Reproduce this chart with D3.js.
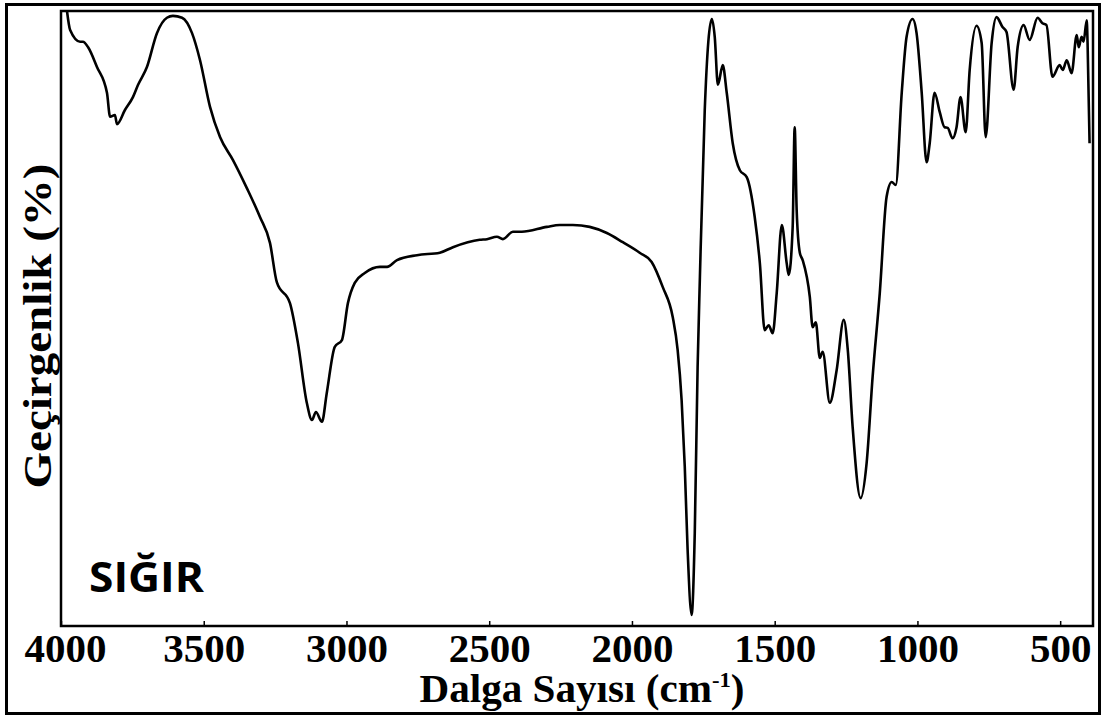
<!DOCTYPE html>
<html>
<head>
<meta charset="utf-8">
<script src="https://cdn.jsdelivr.net/npm/d3@7"></script>
<style>
  body { margin: 0; background: #fff; }
  svg { display: block; }
</style>
</head>
<body>
<script>
var width = 1103,
    height = 717;

// plot box (window.top is taken, so these get their own names)
var plotLeft = 61, plotRight = 1093, plotTop = 11, plotBottom = 626;

// wavenumber (cm-1) and transmittance (%)
var wavenumber = [3979, 3968, 3933, 3923, 3905, 3874, 3839, 3828, 3811, 3804,
  3776, 3748, 3730, 3699, 3664, 3629, 3608, 3576, 3541, 3513,
  3478, 3443, 3398, 3349, 3303, 3268, 3244, 3198, 3170, 3139,
  3121, 3107, 3086, 3069, 3041, 3016, 2995, 2971, 2936, 2883,
  2858, 2823, 2753, 2673, 2627, 2533, 2508, 2473, 2452, 2417,
  2386, 2298, 2253, 2207, 2148, 2088, 2032, 1973, 1931, 1892,
  1857, 1840, 1826, 1815, 1805, 1791, 1780, 1770, 1762, 1745,
  1720, 1710, 1699, 1682, 1668, 1647, 1622, 1598, 1570, 1552,
  1535, 1521, 1507, 1493, 1475, 1458, 1451, 1437, 1430, 1423,
  1412, 1402, 1377, 1367, 1356, 1342, 1332, 1307, 1283, 1258,
  1244, 1227, 1199, 1178, 1157, 1132, 1108, 1090, 1076, 1055,
  1038, 1017, 1003, 985, 968, 957, 940, 922, 905, 894,
  877, 863, 849, 831, 817, 793, 775, 761, 740, 723,
  702, 688, 663, 649, 628, 607, 579, 562, 548, 527,
  502, 491, 477, 460, 442, 435, 425, 418, 407, 404, 397];

var transmittance = [100.0, 96.9, 95.0, 95.0, 94.1, 90.9, 86.7, 82.8, 83.1, 81.6,
  83.9, 86.0, 88.0, 90.9, 96.4, 98.9, 99.2, 98.9, 96.4, 92.0,
  84.4, 79.5, 75.8, 71.2, 66.5, 62.3, 55.9, 52.5, 46.0, 36.3,
  33.5, 34.8, 33.2, 37.9, 45.4, 46.5, 52.5, 55.8, 57.4, 58.4,
  58.4, 59.5, 60.3, 60.7, 61.6, 62.8, 62.9, 63.3, 62.9, 64.1,
  64.1, 64.9, 65.2, 65.2, 64.9, 63.9, 62.4, 60.7, 59.2, 55.1,
  50.2, 44.9, 36.7, 25.9, 12.4, 1.8, 15.1, 42.1, 56.7, 83.9,
  98.7, 95.8, 88.0, 91.2, 86.7, 78.5, 74.1, 73.0, 66.5, 59.0,
  48.1, 48.9, 47.6, 54.1, 65.2, 59.0, 57.1, 64.9, 81.1, 67.6,
  60.7, 59.5, 53.5, 48.6, 49.4, 43.6, 44.6, 36.3, 41.6, 49.8,
  44.9, 32.4, 20.8, 26.5, 40.5, 54.1, 69.8, 72.2, 71.7, 86.7,
  95.8, 98.7, 96.4, 86.7, 75.4, 78.5, 86.7, 83.6, 81.1, 81.0,
  79.3, 81.1, 86.0, 80.3, 90.4, 97.6, 94.8, 79.5, 94.8, 99.0,
  97.4, 96.6, 87.2, 94.1, 97.7, 95.3, 98.9, 98.0, 97.7, 89.3,
  91.2, 90.4, 92.0, 89.9, 96.1, 94.1, 95.8, 95.0, 98.5, 94.8, 78.5];

var xTicks = [4000, 3500, 3000, 2500, 2000, 1500, 1000, 500];

var sampleLabel = "SIĞIR";

var svg = d3.select("body").append("svg")
    .attr("width", width)
    .attr("height", height);

var x = d3.scaleLinear()
    .domain([4000, 385])
    .range([plotLeft, plotRight]);

var y = d3.scaleLinear()
    .domain([0, 100])
    .range([plotBottom, plotTop]);

var points = wavenumber.map(function(w, i) { return [w, transmittance[i]]; });

var line = d3.line()
    .x(function(d) { return x(d[0]); })
    .y(function(d) { return y(d[1]); })
    .curve(d3.curveMonotoneX);

// outer frame of the whole figure
svg.append("rect")
    .attr("x", 6.5).attr("y", 4.5)
    .attr("width", 1093).attr("height", 709)
    .attr("fill", "none")
    .attr("stroke", "#000")
    .attr("stroke-width", 3);

// clip so the spectrum stays inside the box
svg.append("clipPath").attr("id", "plotClip")
  .append("rect")
    .attr("x", plotLeft).attr("y", plotTop)
    .attr("width", plotRight - plotLeft).attr("height", plotBottom - plotTop);

svg.append("path")
    .datum(points)
    .attr("clip-path", "url(#plotClip)")
    .attr("fill", "none")
    .attr("stroke", "#000")
    .attr("stroke-width", 2.6)
    .attr("stroke-linejoin", "round")
    .attr("d", line);

// x axis, ticks pointing up into the plot
var xAxis = svg.append("g")
    .attr("transform", "translate(0," + plotBottom + ")")
    .call(d3.axisBottom(x).tickValues(xTicks).tickSize(-5).tickSizeOuter(0).tickPadding(7).tickFormat(d3.format("d")));

xAxis.select(".domain").remove();
xAxis.selectAll(".tick line").attr("stroke", "#000").attr("stroke-width", 1.5);
xAxis.selectAll(".tick text")
    .attr("fill", "#000")
    .attr("dx", function(d) { return d === 4000 ? 4 : 0; })
    .style("font-family", "'Liberation Serif', 'Times New Roman', serif")
    .style("font-weight", "bold")
    .style("font-size", "41px");

// plot box
svg.append("rect")
    .attr("x", plotLeft).attr("y", plotTop)
    .attr("width", plotRight - plotLeft).attr("height", plotBottom - plotTop)
    .attr("fill", "none")
    .attr("stroke", "#000")
    .attr("stroke-width", 2.5);

// axis titles
var xTitle = svg.append("text")
    .attr("x", 582)
    .attr("y", 702)
    .attr("text-anchor", "middle")
    .attr("textLength", 325)
    .attr("lengthAdjust", "spacingAndGlyphs")
    .style("font-family", "'Liberation Serif', 'Times New Roman', serif")
    .style("font-weight", "bold")
    .style("font-size", "40px");
xTitle.append("tspan").text("Dalga Sayısı (cm");
xTitle.append("tspan").attr("dy", -15).style("font-size", "22px").text("-1");
xTitle.append("tspan").attr("dy", 15).text(")");

svg.append("text")
    .attr("transform", "translate(51,326) rotate(-90)")
    .attr("text-anchor", "middle")
    .attr("textLength", 325)
    .attr("lengthAdjust", "spacingAndGlyphs")
    .style("font-family", "'Liberation Serif', 'Times New Roman', serif")
    .style("font-weight", "bold")
    .style("font-size", "40px")
    .text("Geçirgenlik (%)");

// sample name
svg.append("text")
    .attr("x", 89)
    .attr("y", 592)
    .attr("textLength", 115)
    .attr("lengthAdjust", "spacingAndGlyphs")
    .style("font-family", "'Open Sans', sans-serif")
    .style("font-weight", "bold")
    .style("font-size", "41px")
    .text(sampleLabel);
</script>
</body>
</html>
